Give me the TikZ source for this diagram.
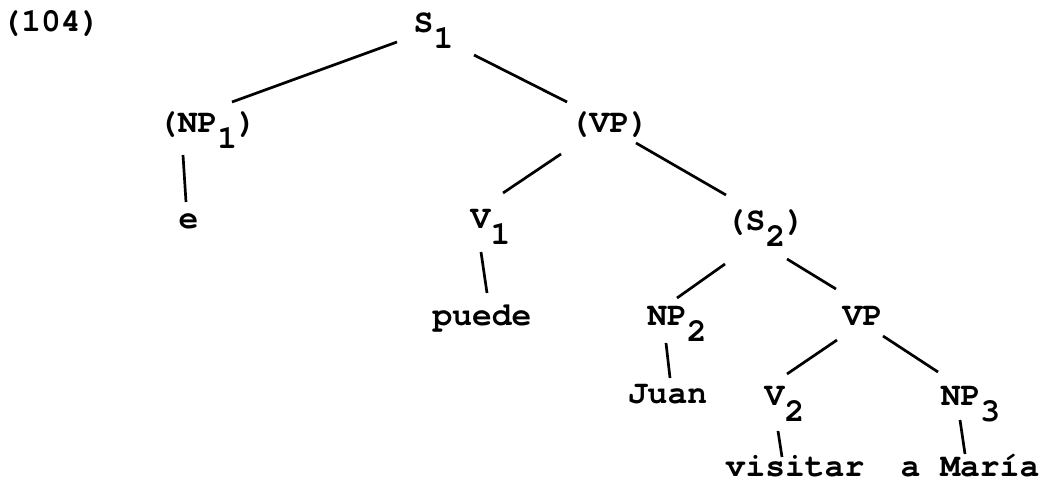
\documentclass[tikz,border=0pt]{standalone}
\usepackage{fontspec}
\setmainfont{TeX Gyre Cursor}
\newcommand{\lowsub}[1]{\raisebox{-16pt}{#1}}
\begin{document}
\begin{tikzpicture}[x=1pt,y=-1pt,
  lbl/.style={anchor=base,inner sep=0pt,font=\fontsize{33}{40}\selectfont\bfseries},
  edge/.style={line width=2.7pt,black}]
\useasboundingbox (0,0) rectangle (1041,484);
\node[lbl] (ex) at (51,32) {(104)};
\node[lbl] (s1) at (433.5,33) {S\lowsub{1}};
\node[lbl] (np1) at (207.5,133) {(NP\lowsub{1})};
\node[lbl] (vp1) at (609.5,132) {(VP)};
\node[lbl] (e) at (188.5,228) {e};
\node[lbl] (v1) at (490.5,228) {V\lowsub{1}};
\node[lbl] (s2) at (765.5,230) {(S\lowsub{2})};
\node[lbl] (puede) at (482,325) {puede};
\node[lbl] (np2) at (677,325) {NP\lowsub{2}};
\node[lbl] (vp2) at (862.5,325) {VP};
\node[lbl] (juan) at (667.5,403) {Juan};
\node[lbl] (v2) at (784.5,405) {V\lowsub{2}};
\node[lbl] (np3) at (970.5,405) {NP\lowsub{3}};
\node[lbl] (visitar) at (795,476) {visitar};
\node[lbl] (amaria) at (970,476) {a María};
\draw[edge] ([shift={(-36.5,9)}]s1.base) -- ([shift={(24.5,-31)}]np1.base);
\draw[edge] ([shift={(40.5,22)}]s1.base) -- ([shift={(-42.5,-30)}]vp1.base);
\draw[edge] ([shift={(-24.5,22)}]np1.base) -- ([shift={(-2.5,-26)}]e.base);
\draw[edge] ([shift={(-48.5,22)}]vp1.base) -- ([shift={(12.5,-35)}]v1.base);
\draw[edge] ([shift={(26.5,11)}]vp1.base) -- ([shift={(-39.5,-35)}]s2.base);
\draw[edge] ([shift={(-9.5,24)}]v1.base) -- ([shift={(5,-32)}]puede.base);
\draw[edge] ([shift={(-40.5,34)}]s2.base) -- ([shift={(0,-27)}]np2.base);
\draw[edge] ([shift={(21.5,29)}]s2.base) -- ([shift={(-26.5,-36)}]vp2.base);
\draw[edge] ([shift={(-11,18)}]np2.base) -- ([shift={(2.5,-25)}]juan.base);
\draw[edge] ([shift={(-25.5,15)}]vp2.base) -- ([shift={(2.5,-31)}]v2.base);
\draw[edge] ([shift={(20.5,11)}]vp2.base) -- ([shift={(-32.5,-33)}]np3.base);
\draw[edge] ([shift={(-6.5,26)}]v2.base) -- ([shift={(-13,-19)}]visitar.base);
\draw[edge] ([shift={(-10.5,15)}]np3.base) -- ([shift={(-5,-22)}]amaria.base);
\end{tikzpicture}
\end{document}
